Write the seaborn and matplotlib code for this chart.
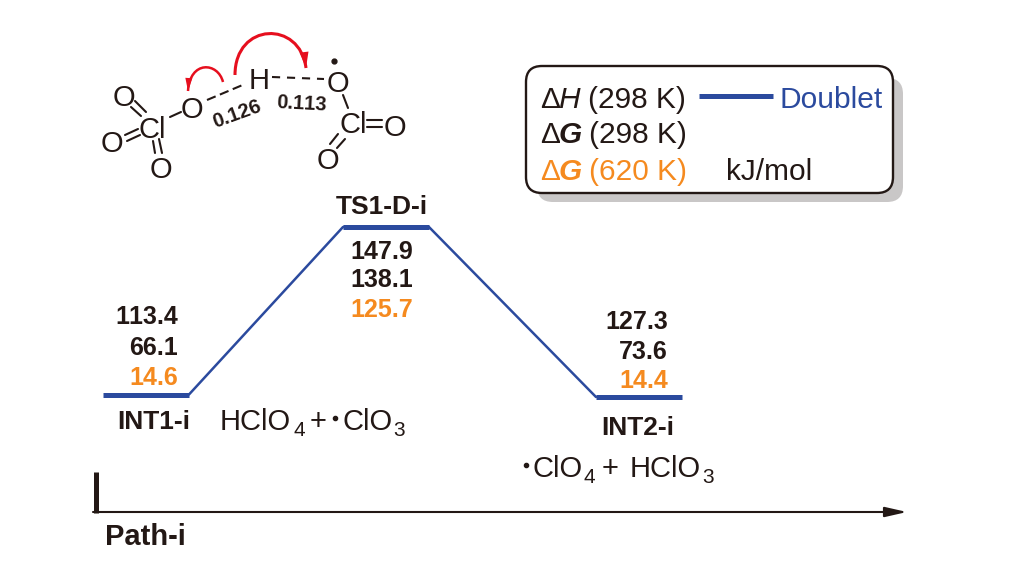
import matplotlib
matplotlib.use('Agg')
import matplotlib.pyplot as plt
import numpy as np
import pandas as pd
import seaborn as sns
from matplotlib.patches import FancyBboxPatch, PathPatch
from matplotlib.path import Path

# energy profile in image pixels
states = ['INT1-i', 'TS1-D-i', 'INT2-i']
level_start = [103, 343, 596]
level_end = [189, 429, 682]
level_y = [394.5, 227, 397]

# energies as printed: dH(298), dG(298), dG(620)
dh_298 = ['113.4', '147.9', '127.3']
dg_298 = ['66.1', '138.1', '73.6']
dg_620 = ['14.6', '125.7', '14.4']

BLUE = '#2b4a9e'
ORANGE = '#f58a1f'
BLACK = '#231815'
RED = '#e60f1e'
SHADOW = '#c9c7c7'


def text(ax, x, y, s, size=21, weight='normal', style='normal', color=BLACK, ha='left', rot=0, va='baseline'):
    ax.text(x, y, s, fontsize=size, fontweight=weight, fontstyle=style, color=color,
            ha=ha, va=va, rotation=rot, rotation_mode='anchor')


def draw_profile(ax):
    levels = pd.DataFrame({
        'state': states * 2,
        'x': level_start + level_end,
        'y': level_y * 2,
    })
    path_x = [level_end[0], level_start[1], level_end[1], level_start[2]]
    path_y = [level_y[0], level_y[1], level_y[1], level_y[2]]
    sns.lineplot(x=path_x, y=path_y, sort=False, estimator=None, color=BLUE, lw=1.8, ax=ax)
    sns.lineplot(data=levels, x='x', y='y', units='state', estimator=None,
                 color=BLUE, lw=3.6, solid_capstyle='butt', ax=ax)


def draw_values(ax):
    text(ax, 178, 324, dh_298[0], 18, 'bold', ha='right')
    text(ax, 178, 355, dg_298[0], 18, 'bold', ha='right')
    text(ax, 178, 385, dg_620[0], 18, 'bold', color=ORANGE, ha='right')
    text(ax, 382, 259, dh_298[1], 18, 'bold', ha='center')
    text(ax, 382, 287, dg_298[1], 18, 'bold', ha='center')
    text(ax, 382, 317, dg_620[1], 18, 'bold', color=ORANGE, ha='center')
    text(ax, 668, 329, dh_298[2], 18, 'bold', ha='right')
    text(ax, 668, 359, dg_298[2], 18, 'bold', ha='right')
    text(ax, 668, 388, dg_620[2], 18, 'bold', color=ORANGE, ha='right')
    text(ax, 153.5, 429, states[0], 19, 'bold', ha='center')
    text(ax, 382, 214, states[1], 19, 'bold', ha='center')
    text(ax, 638, 435, states[2], 19, 'bold', ha='center')


def draw_species(ax):
    text(ax, 220, 430, 'HClO')
    text(ax, 293, 436, '4', 15)
    text(ax, 318, 430, '+', ha='center')
    ax.plot([335], [418], 'o', ms=3, color=BLACK)
    text(ax, 342, 430, 'ClO')
    text(ax, 393, 436, '3', 15)

    ax.plot([526], [465], 'o', ms=3, color=BLACK)
    text(ax, 533, 477, 'ClO')
    text(ax, 583, 483, '4', 15)
    text(ax, 610, 477, '+', ha='center')
    text(ax, 630, 477, 'HClO')
    text(ax, 702, 483, '3', 15)


def draw_legend(ax):
    ax.add_patch(FancyBboxPatch((537, 78), 366, 124, boxstyle='round,pad=0,rounding_size=16',
                                fc=SHADOW, ec='none', zorder=1))
    ax.add_patch(FancyBboxPatch((526, 66), 367, 127, boxstyle='round,pad=0,rounding_size=16',
                                fc='white', ec=BLACK, lw=1.7, zorder=2))
    for x, y, s, kw in [
        (540, 108, '\u0394', {}),
        (558, 108, 'H', {'style': 'italic'}),
        (588, 108, '(298 K)', {}),
        (540, 143, '\u0394', {}),
        (559, 143, 'G', {'style': 'italic', 'weight': 'bold'}),
        (589, 143, '(298 K)', {}),
        (540, 180, '\u0394', {'color': ORANGE}),
        (559, 180, 'G', {'style': 'italic', 'weight': 'bold', 'color': ORANGE}),
        (589, 180, '(620 K)', {'color': ORANGE}),
        (726, 180, 'kJ/mol', {}),
        (780, 108, 'Doublet', {'color': BLUE}),
    ]:
        ax.text(x, y, s, fontsize=21.5, fontstyle=kw.get('style', 'normal'), fontweight=kw.get('weight', 'normal'),
                color=kw.get('color', BLACK), zorder=3)
    ax.plot([699, 773], [96, 96], color=BLUE, lw=3.6, solid_capstyle='butt', zorder=3)


def curved_arrow(ax, p0, p1, p2, p3, lw, head_length, head_width):
    curve = Path([p0, p1, p2, p3], [Path.MOVETO, Path.CURVE4, Path.CURVE4, Path.CURVE4])
    ax.add_patch(PathPatch(curve, fc='none', ec=RED, lw=lw, capstyle='butt'))
    # plain filled head so the tip lands right on the end point
    tip = np.array(p3, dtype=float)
    u = tip - np.array(p2, dtype=float)
    u = u / np.linalg.norm(u)
    n = np.array([-u[1], u[0]])
    base = tip - head_length * u
    corners = np.array([tip, base + head_width * n, base - head_width * n])
    ax.fill(corners[:, 0], corners[:, 1], color=RED, lw=0)


def draw_molecule(ax):
    for x, y, s in [(124, 94.5, 'O'), (112, 141.5, 'O'), (161, 167.5, 'O'), (152.5, 126.5, 'Cl'), (192, 107, 'O'),
                    (259, 78, 'H'), (338, 81, 'O'), (353, 122, 'Cl'), (395, 125, 'O'), (328, 158, 'O')]:
        ax.text(x, y, s, fontsize=21, color=BLACK, ha='center', va='center_baseline')
    bonds = [(135, 101, 146, 112), (131, 107, 141, 116), (125, 135, 138, 129), (127, 141, 140, 135),
             (153, 141, 155, 153), (159, 139, 162, 153), (170, 117, 181, 112), (343, 95, 348, 108),
             (367, 120, 382, 120), (367, 127, 382, 127), (338, 134, 330, 144), (345, 139, 337, 148)]
    for x0, y0, x1, y1 in bonds:
        ax.plot([x0, x1], [y0, y1], color=BLACK, lw=1.5)
    ax.plot([207, 245], [100, 84], color=BLACK, lw=1.5, ls=(0, (4.5, 2.2)))
    ax.plot([272, 324], [77, 79], color=BLACK, lw=1.5, ls=(0, (3.9, 3.3)))
    ax.plot([334], [61], 'o', ms=3.5, color=BLACK)
    text(ax, 236, 112, '0.126', 14.5, 'bold', ha='center', rot=20, va='center_baseline')
    text(ax, 302, 102, '0.113', 14.5, 'bold', ha='center', rot=-3, va='center_baseline')
    # electron-pushing arrows
    curved_arrow(ax, (223, 82), (218, 62), (190, 60), (188, 91), 1.8, 13, 3.5)
    curved_arrow(ax, (235, 75), (235, 22), (300, 20), (306, 68), 2.2, 16, 4.5)


def draw_axis(ax):
    ax.plot([95.5, 95.5], [472, 513], color=BLACK, lw=3.6, solid_capstyle='butt')
    ax.annotate('', xy=(907, 512), xytext=(93, 512),
                arrowprops=dict(arrowstyle='-|>,head_length=1.1,head_width=0.25', color=BLACK, lw=1.5,
                                shrinkA=0, shrinkB=0))
    text(ax, 105, 545, 'Path-i', 21, 'bold')


def main():
    sns.set_theme(style='white')
    plt.rcParams['font.family'] = ['Liberation Sans', 'DejaVu Sans']
    plt.rcParams['text.kerning_factor'] = 6
    fig = plt.figure(figsize=(10.11, 5.66), dpi=100)
    ax = fig.add_axes([0, 0, 1, 1])
    draw_profile(ax)
    draw_values(ax)
    draw_species(ax)
    draw_legend(ax)
    draw_molecule(ax)
    draw_axis(ax)
    ax.set_xlim(0, 1011)
    ax.set_ylim(566, 0)
    ax.set_xlabel('')
    ax.set_ylabel('')
    ax.axis('off')
    fig.savefig('out.png', dpi=100, facecolor='white')


if __name__ == "__main__":
    main()
